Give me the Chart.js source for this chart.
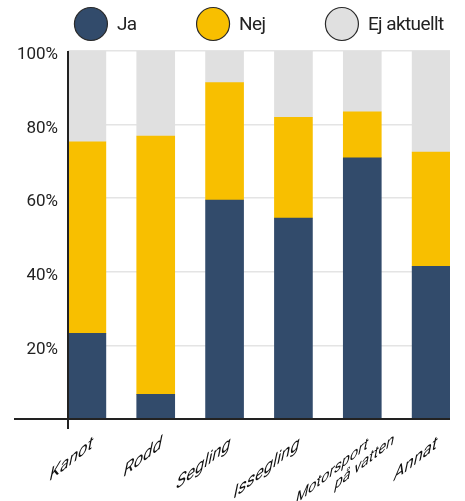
<!DOCTYPE html>
<html><head><meta charset="utf-8">
<script src="https://cdn.jsdelivr.net/npm/chart.js@4"></script>
<style>html,body{margin:0;padding:0;background:#fff}#wrap{width:465px;height:501px;position:relative}</style>
</head><body><div id="wrap"><canvas id="c"></canvas></div>
<script>
const categories = ['Kanot', 'Rodd', 'Segling', 'Issegling', ['Motorsport', 'på vatten'], 'Annat'];
const seriesNames = ['Ja', 'Nej', 'Ej aktuellt'];
const ja = [23.3, 6.7, 59.5, 54.6, 71.0, 41.5];
const nej = [52.0, 70.2, 31.9, 27.4, 12.5, 31.0];
const ejAktuellt = [24.7, 23.1, 8.6, 18.0, 16.5, 27.5];
const yTickValues = [0, 20, 40, 60, 80, 100];
const colors = ['#324B6B', '#F8BF00', '#E0E0E0'];

const FONT = 'Roboto, "Noto Sans", sans-serif';

const seriesValues = [ja, nej, ejAktuellt];
const datasets = seriesNames.map((name, s) => ({
  label: name,
  data: seriesValues[s].map((v, i) => ({ x: i, y: v })),
  backgroundColor: colors[s],
  borderWidth: 0,
  barThickness: 38
}));

const axisLines = {
  id: 'axisLines',
  afterDatasetsDraw(chart) {
    const { ctx, chartArea: a, scales: { y } } = chart;
    const y0 = y.getPixelForValue(0);
    ctx.save();
    ctx.strokeStyle = '#222';
    ctx.lineWidth = 2;
    ctx.beginPath();
    ctx.moveTo(a.left - 54, y0); ctx.lineTo(a.right, y0);
    ctx.moveTo(a.left, y.getPixelForValue(100)); ctx.lineTo(a.left, y0 + 10);
    ctx.stroke();
    ctx.restore();
  }
};

// x category labels: slanted text, anchored at each category's pixel
const skewLabels = {
  id: 'skewLabels',
  afterDraw(chart) {
    const { ctx, scales: { x, y } } = chart;
    const y0 = y.getPixelForValue(0);
    categories.forEach((lab, i) => {
      const lines = Array.isArray(lab) ? lab : [lab];
      const size = lines.length > 1 ? 14.5 : 16.5;
      ctx.save();
      ctx.translate(x.getPixelForValue(i) + 5, y0 + 29);
      ctx.transform(1, -0.78, -0.25, 1.2, 0, 0);
      ctx.font = size + 'px ' + FONT;
      ctx.fillStyle = '#111';
      ctx.textAlign = 'right';
      ctx.textBaseline = 'alphabetic';
      lines.forEach((ln, j) => ctx.fillText(ln, j * 30, j * 16));
      ctx.restore();
    });
  }
};

const circleLegend = {
  id: 'circleLegend',
  afterDraw(chart) {
    const { ctx, chartArea: a } = chart;
    const ds = chart.data.datasets;
    ctx.save();
    ctx.font = '19px ' + FONT;
    ctx.letterSpacing = '-0.6px';
    const r = 16.5, gapText = 9.5, gapItem = 60;
    const widths = ds.map(d => ctx.measureText(d.label).width);
    const total = widths.reduce((s, w) => s + 2 * r + gapText + w, 0) + gapItem * (ds.length - 1);
    let x = (a.left + a.right) / 2 - total / 2;
    const cy = a.top - 27;
    ds.forEach((d, i) => {
      ctx.beginPath();
      ctx.arc(x + r, cy, r, 0, Math.PI * 2);
      ctx.fillStyle = d.backgroundColor;
      ctx.fill();
      ctx.lineWidth = 1.2;
      ctx.strokeStyle = '#2a2a2a';
      ctx.stroke();
      ctx.fillStyle = '#222';
      ctx.textBaseline = 'middle';
      ctx.textAlign = 'left';
      ctx.fillText(d.label, x + 2 * r + gapText, cy + 1);
      x += 2 * r + gapText + widths[i] + gapItem;
    });
    ctx.restore();
  }
};

new Chart(document.getElementById('c'), {
  type: 'bar',
  data: { datasets },
  plugins: [axisLines, skewLabels, circleLegend],
  options: {
    responsive: true,
    maintainAspectRatio: false,
    animation: false,
    layout: { padding: { top: 51, right: 15, left: 0, bottom: 0 } },
    plugins: {
      tooltip: { enabled: false },
      legend: { display: false }
    },
    scales: {
      x: {
        type: 'linear',
        stacked: true,
        offset: false,
        min: -0.274,
        max: 5.274,
        grid: { display: false },
        border: { display: false },
        afterFit(scale) { scale.height = 82; },
        afterBuildTicks(scale) {
          scale.ticks = categories.map((c, i) => ({ value: i }));
        },
        ticks: { display: false, includeBounds: false, stepSize: 1, autoSkip: false }
      },
      y: {
        stacked: true,
        min: 0,
        max: 100,
        afterFit(scale) { scale.width = 68; },
        afterBuildTicks(scale) {
          scale.ticks = yTickValues.map(v => ({ value: v }));
        },
        grid: {
          color: (ctx) => (ctx.tick && ctx.tick.value === 0 ? 'rgba(0,0,0,0)' : '#e4e4e4'),
          lineWidth: 1.5,
          drawTicks: false
        },
        border: { display: false },
        ticks: {
          padding: 10,
          color: '#222',
          labelOffset: 4,
          font: { family: FONT, size: 17 },
          callback: (v) => (v === 0 ? '' : v + '%')
        }
      }
    }
  }
});
</script></body></html>
